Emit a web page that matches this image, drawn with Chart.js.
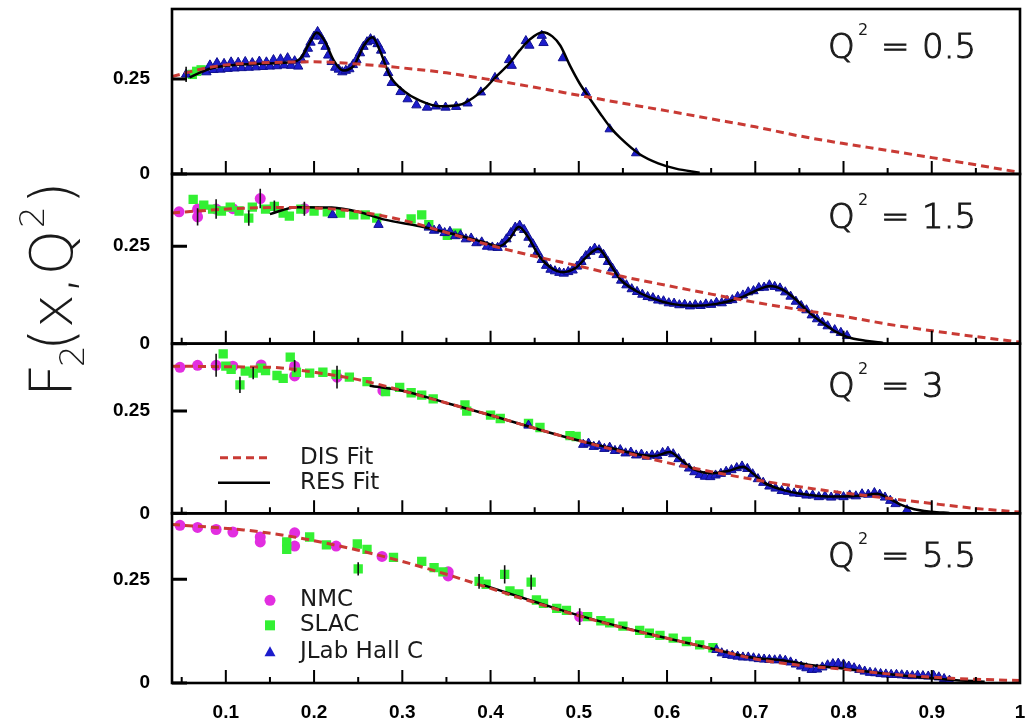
<!DOCTYPE html>
<html>
<head>
<meta charset="utf-8">
<script src="https://cdn.jsdelivr.net/npm/chart.js@4.4.1/dist/chart.umd.min.js"></script>
<style>
  html, body { margin: 0; padding: 0; background: #fff; }
</style>
</head>
<body>
<canvas id="grafica" width="1032" height="722"></canvas>
<script>
// eje x
const xTicks = [0.1, 0.2, 0.3, 0.4, 0.5, 0.6, 0.7, 0.8, 0.9, 1.0];
const xTickLabels = ['0.1', '0.2', '0.3', '0.4', '0.5', '0.6', '0.7', '0.8', '0.9', '1'];
const xMinor = [0.05, 0.15, 0.25, 0.35, 0.45, 0.55, 0.65, 0.75, 0.85, 0.95];
const yTicks = [0, 0.25];
const yTickLabels = ['0', '0.25'];
const q2Labels = ['0.5', '1.5', '3', '5.5'];

// Q2 = 0.5
const dis05 = [[0.039,0.256],[0.07,0.275],[0.1,0.287],[0.15,0.293],[0.2,0.295],[0.25,0.289],[0.3,0.279],[0.35,0.266],[0.4,0.248],[0.45,0.228],[0.5,0.207],[0.55,0.186],[0.6,0.166],[0.65,0.145],[0.7,0.124],[0.75,0.1],[0.8,0.08],[0.85,0.062],[0.9,0.043],[0.95,0.024],[1.0,0.004]];
const res05 = [[0.059,0.254],[0.07,0.266],[0.082,0.277],[0.105,0.286],[0.14,0.29],[0.17,0.293],[0.185,0.305],[0.195,0.345],[0.203,0.372],[0.212,0.35],[0.222,0.3],[0.233,0.272],[0.245,0.285],[0.257,0.34],[0.266,0.36],[0.275,0.322],[0.286,0.258],[0.302,0.218],[0.32,0.193],[0.343,0.178],[0.365,0.182],[0.38,0.2],[0.395,0.228],[0.405,0.253],[0.421,0.29],[0.433,0.325],[0.445,0.355],[0.459,0.373],[0.47,0.362],[0.479,0.338],[0.49,0.285],[0.501,0.238],[0.512,0.2],[0.524,0.16],[0.536,0.122],[0.547,0.095],[0.569,0.052],[0.59,0.028],[0.61,0.014],[0.637,0.003]];
const nmc05 = [];
const slac05 = [[0.062,0.262],[0.067,0.27],[0.072,0.274]];
const jlab05 = [[0.055,0.262],[0.078,0.268],[0.082,0.286],[0.086,0.274],[0.09,0.292],[0.094,0.275],[0.098,0.29],[0.102,0.277],[0.106,0.294],[0.11,0.278],[0.114,0.293],[0.118,0.279],[0.122,0.295],[0.126,0.28],[0.13,0.292],[0.134,0.281],[0.138,0.296],[0.142,0.282],[0.146,0.294],[0.15,0.283],[0.154,0.3],[0.158,0.284],[0.162,0.302],[0.166,0.286],[0.17,0.305],[0.174,0.285],[0.178,0.297],[0.182,0.283],[0.186,0.3],[0.19,0.315],[0.193,0.33],[0.196,0.346],[0.2,0.362],[0.204,0.374],[0.207,0.362],[0.21,0.35],[0.213,0.335],[0.216,0.312],[0.22,0.295],[0.224,0.28],[0.228,0.275],[0.232,0.268],[0.236,0.272],[0.24,0.276],[0.244,0.287],[0.248,0.3],[0.252,0.318],[0.256,0.335],[0.26,0.347],[0.264,0.355],[0.268,0.35],[0.272,0.342],[0.276,0.325],[0.28,0.296],[0.284,0.266],[0.288,0.24],[0.298,0.216],[0.306,0.197],[0.316,0.181],[0.328,0.175],[0.338,0.178],[0.349,0.175],[0.361,0.177],[0.374,0.186],[0.389,0.215],[0.405,0.253],[0.421,0.3],[0.424,0.285],[0.44,0.35],[0.444,0.338],[0.458,0.364],[0.46,0.345],[0.482,0.305],[0.508,0.214],[0.535,0.118],[0.565,0.055]];
const err05 = [[0.055,0.262,0.02]];

// Q2 = 1.5
const dis15 = [[0.039,0.335],[0.08,0.342],[0.12,0.347],[0.16,0.349],[0.2,0.348],[0.25,0.338],[0.3,0.317],[0.35,0.285],[0.4,0.252],[0.45,0.224],[0.5,0.199],[0.55,0.172],[0.6,0.149],[0.65,0.127],[0.7,0.106],[0.75,0.087],[0.8,0.07],[0.85,0.05],[0.9,0.033],[0.95,0.018],[1.0,0.004]];
const res15 = [[0.15,0.332],[0.18,0.35],[0.22,0.349],[0.25,0.338],[0.28,0.318],[0.32,0.301],[0.36,0.28],[0.39,0.262],[0.41,0.25],[0.422,0.27],[0.432,0.3],[0.442,0.275],[0.455,0.225],[0.468,0.195],[0.482,0.183],[0.497,0.195],[0.51,0.225],[0.522,0.243],[0.535,0.205],[0.547,0.165],[0.565,0.135],[0.581,0.118],[0.605,0.102],[0.63,0.097],[0.656,0.102],[0.68,0.115],[0.7,0.135],[0.717,0.148],[0.73,0.14],[0.745,0.115],[0.758,0.086],[0.777,0.052],[0.79,0.032],[0.804,0.017],[0.827,0.007],[0.845,0.002]];
const nmc15 = [[0.047,0.338],[0.068,0.345],[0.068,0.325],[0.089,0.345],[0.108,0.346],[0.139,0.372],[0.189,0.346]];
const slac15 = [[0.063,0.37],[0.075,0.355],[0.085,0.345],[0.095,0.34],[0.105,0.35],[0.115,0.34],[0.126,0.322],[0.13,0.35],[0.145,0.345],[0.155,0.352],[0.165,0.335],[0.172,0.327],[0.185,0.345],[0.2,0.34],[0.215,0.338],[0.23,0.335],[0.245,0.33],[0.258,0.33],[0.271,0.322],[0.31,0.32],[0.322,0.33],[0.33,0.305],[0.351,0.278],[0.362,0.283]];
const jlab15 = [[0.221,0.33],[0.273,0.305],[0.33,0.298],[0.336,0.29],[0.342,0.293],[0.348,0.284],[0.354,0.287],[0.36,0.276],[0.366,0.278],[0.372,0.268],[0.378,0.27],[0.384,0.258],[0.39,0.26],[0.396,0.249],[0.402,0.247],[0.408,0.246],[0.413,0.255],[0.418,0.268],[0.423,0.284],[0.428,0.298],[0.433,0.303],[0.438,0.292],[0.443,0.272],[0.448,0.255],[0.453,0.235],[0.458,0.215],[0.463,0.2],[0.468,0.19],[0.473,0.186],[0.478,0.182],[0.483,0.18],[0.488,0.184],[0.493,0.188],[0.498,0.198],[0.503,0.21],[0.508,0.225],[0.513,0.236],[0.518,0.244],[0.523,0.24],[0.528,0.228],[0.533,0.21],[0.538,0.193],[0.543,0.176],[0.548,0.162],[0.554,0.15],[0.56,0.14],[0.566,0.133],[0.572,0.126],[0.578,0.12],[0.584,0.117],[0.59,0.111],[0.596,0.109],[0.602,0.104],[0.608,0.103],[0.614,0.099],[0.62,0.1],[0.626,0.096],[0.632,0.099],[0.638,0.097],[0.644,0.101],[0.65,0.1],[0.656,0.105],[0.662,0.104],[0.668,0.11],[0.674,0.112],[0.68,0.12],[0.686,0.124],[0.692,0.132],[0.698,0.135],[0.704,0.143],[0.71,0.144],[0.716,0.15],[0.722,0.146],[0.728,0.142],[0.734,0.132],[0.74,0.121],[0.746,0.108],[0.752,0.097],[0.758,0.086],[0.764,0.073],[0.77,0.063],[0.776,0.054],[0.782,0.045],[0.79,0.035],[0.797,0.028],[0.804,0.02]];
const err15 = [[0.068,0.325,0.022],[0.089,0.345,0.025],[0.126,0.322,0.02],[0.139,0.372,0.025],[0.189,0.346,0.018],[0.155,0.352,0.015]];

// Q2 = 3
const dis3 = [[0.039,0.36],[0.08,0.359],[0.12,0.358],[0.16,0.356],[0.2,0.345],[0.25,0.327],[0.3,0.3],[0.35,0.27],[0.4,0.24],[0.45,0.208],[0.5,0.178],[0.55,0.15],[0.6,0.124],[0.65,0.102],[0.7,0.082],[0.75,0.065],[0.8,0.05],[0.85,0.037],[0.9,0.024],[0.95,0.012],[1.0,0.003]];
const res3 = [[0.263,0.312],[0.3,0.3],[0.35,0.27],[0.4,0.24],[0.45,0.208],[0.5,0.178],[0.54,0.158],[0.565,0.145],[0.585,0.14],[0.603,0.15],[0.615,0.132],[0.63,0.108],[0.652,0.098],[0.672,0.105],[0.686,0.114],[0.697,0.098],[0.71,0.075],[0.73,0.058],[0.751,0.048],[0.79,0.041],[0.82,0.043],[0.838,0.048],[0.85,0.038],[0.864,0.022],[0.88,0.01],[0.9,0.004],[0.92,0.001]];
const nmc3 = [[0.048,0.357],[0.068,0.362],[0.089,0.362],[0.108,0.36],[0.14,0.363],[0.178,0.36],[0.178,0.336],[0.226,0.333],[0.278,0.3]];
const slac3 = [[0.097,0.39],[0.1,0.36],[0.106,0.352],[0.116,0.314],[0.122,0.348],[0.131,0.343],[0.14,0.355],[0.145,0.349],[0.158,0.337],[0.165,0.33],[0.173,0.382],[0.18,0.345],[0.195,0.343],[0.21,0.345],[0.225,0.34],[0.24,0.333],[0.26,0.322],[0.281,0.298],[0.297,0.308],[0.31,0.295],[0.322,0.289],[0.335,0.28],[0.371,0.265],[0.373,0.25],[0.4,0.24],[0.411,0.232],[0.443,0.22],[0.456,0.21],[0.49,0.19],[0.497,0.188]];
const jlab3 = [[0.443,0.215],[0.505,0.168],[0.511,0.171],[0.517,0.163],[0.523,0.165],[0.529,0.158],[0.535,0.161],[0.541,0.153],[0.547,0.155],[0.553,0.147],[0.559,0.149],[0.565,0.142],[0.571,0.144],[0.577,0.139],[0.583,0.142],[0.589,0.141],[0.595,0.148],[0.601,0.151],[0.607,0.145],[0.613,0.133],[0.619,0.12],[0.625,0.11],[0.631,0.101],[0.637,0.094],[0.643,0.09],[0.649,0.089],[0.655,0.093],[0.661,0.097],[0.667,0.102],[0.673,0.106],[0.679,0.111],[0.685,0.115],[0.691,0.109],[0.697,0.096],[0.703,0.084],[0.709,0.075],[0.716,0.066],[0.723,0.061],[0.73,0.055],[0.737,0.053],[0.744,0.049],[0.751,0.048],[0.758,0.044],[0.765,0.044],[0.772,0.04],[0.779,0.042],[0.786,0.039],[0.793,0.042],[0.8,0.04],[0.807,0.044],[0.814,0.042],[0.821,0.047],[0.828,0.046],[0.835,0.05],[0.841,0.046],[0.847,0.039],[0.853,0.031],[0.859,0.023],[0.872,0.008]];
const err3 = [[0.089,0.362,0.028],[0.116,0.314,0.02],[0.131,0.343,0.015],[0.178,0.36,0.015],[0.226,0.333,0.028]];

// Q2 = 5.5
const dis55 = [[0.039,0.382],[0.08,0.376],[0.12,0.369],[0.16,0.358],[0.2,0.343],[0.25,0.32],[0.3,0.293],[0.35,0.262],[0.4,0.228],[0.45,0.194],[0.5,0.162],[0.55,0.133],[0.6,0.108],[0.65,0.083],[0.7,0.058],[0.75,0.043],[0.8,0.033],[0.85,0.022],[0.9,0.014],[0.95,0.009],[1.0,0.006]];
const res55 = [[0.392,0.236],[0.45,0.196],[0.5,0.163],[0.55,0.134],[0.6,0.108],[0.65,0.083],[0.7,0.06],[0.73,0.055],[0.76,0.044],[0.8,0.035],[0.84,0.024],[0.88,0.015],[0.92,0.008],[0.96,0.003]];
const nmc55 = [[0.048,0.38],[0.068,0.375],[0.089,0.37],[0.108,0.364],[0.139,0.352],[0.139,0.34],[0.178,0.362],[0.178,0.33],[0.225,0.33],[0.277,0.305],[0.352,0.268],[0.352,0.258],[0.501,0.16]];
const slac55 = [[0.169,0.34],[0.169,0.322],[0.195,0.352],[0.214,0.333],[0.249,0.335],[0.25,0.275],[0.26,0.322],[0.29,0.303],[0.322,0.293],[0.336,0.278],[0.346,0.268],[0.387,0.245],[0.395,0.238],[0.416,0.262],[0.422,0.222],[0.432,0.215],[0.446,0.243],[0.452,0.2],[0.46,0.192],[0.475,0.18],[0.486,0.175],[0.51,0.16],[0.525,0.15],[0.535,0.145],[0.55,0.137],[0.569,0.127],[0.58,0.12],[0.592,0.115],[0.607,0.108],[0.622,0.1],[0.637,0.092],[0.652,0.085]];
const jlab55 = [[0.656,0.08],[0.662,0.072],[0.668,0.068],[0.674,0.066],[0.68,0.064],[0.686,0.062],[0.692,0.062],[0.698,0.06],[0.704,0.058],[0.71,0.057],[0.716,0.056],[0.722,0.055],[0.728,0.056],[0.734,0.054],[0.74,0.05],[0.746,0.045],[0.752,0.04],[0.758,0.036],[0.764,0.032],[0.77,0.033],[0.776,0.038],[0.782,0.043],[0.788,0.046],[0.794,0.047],[0.8,0.045],[0.806,0.04],[0.812,0.036],[0.818,0.032],[0.824,0.028],[0.83,0.025],[0.836,0.024],[0.842,0.022],[0.848,0.021],[0.854,0.02],[0.86,0.02],[0.866,0.019],[0.872,0.018],[0.878,0.017],[0.884,0.018],[0.89,0.017],[0.896,0.016],[0.902,0.018],[0.908,0.014],[0.914,0.01],[0.92,0.006]];
const err55 = [[0.25,0.275,0.016],[0.387,0.245,0.018],[0.416,0.262,0.022],[0.446,0.243,0.018],[0.501,0.16,0.02],[0.8,0.045,0.01]];

const panels = [
  { axis: 'y1', ymax: 0.434, weight: 165, dis: dis05, res: res05, nmc: nmc05, slac: slac05, jlab: jlab05, err: err05 },
  { axis: 'y2', ymax: 0.435, weight: 169.7, dis: dis15, res: res15, nmc: nmc15, slac: slac15, jlab: jlab15, err: err15 },
  { axis: 'y3', ymax: 0.415, weight: 169.7, dis: dis3, res: res3, nmc: nmc3, slac: slac3, jlab: jlab3, err: err3 },
  { axis: 'y4', ymax: 0.409, weight: 169.7, dis: dis55, res: res55, nmc: nmc55, slac: slac55, jlab: jlab55, err: err55 }
];

const RED = '#c93a34';
const NMC_COLOR = '#e22ee0';
const SLAC_COLOR = '#33f033';
const JLAB_COLOR = '#1c1ccc';

const pts = a => a.map(p => ({ x: p[0], y: p[1] }));

const datasets = [];
panels.forEach(p => {
  datasets.push({ type: 'line', label: 'DIS Fit', data: pts(p.dis), yAxisID: p.axis, order: 0,
    borderColor: RED, borderWidth: 3, borderDash: [8, 5], pointRadius: 0, cubicInterpolationMode: 'monotone', fill: false });
  datasets.push({ type: 'line', label: 'RES Fit', data: pts(p.res), yAxisID: p.axis, order: 1,
    borderColor: '#000', borderWidth: 2.5, pointRadius: 0, cubicInterpolationMode: 'monotone', fill: false });
  datasets.push({ label: 'JLab Hall C', data: pts(p.jlab), yAxisID: p.axis, order: 2, pointStyle: 'triangle',
    pointRadius: 5.4, backgroundColor: JLAB_COLOR, borderColor: '#10108f', borderWidth: 1 });
  datasets.push({ label: 'SLAC', data: pts(p.slac), yAxisID: p.axis, order: 3, pointStyle: 'rect',
    pointRadius: 6.6, backgroundColor: SLAC_COLOR, borderColor: SLAC_COLOR, borderWidth: 0 });
  datasets.push({ label: 'NMC', data: pts(p.nmc), yAxisID: p.axis, order: 4, pointStyle: 'circle',
    pointRadius: 5.5, backgroundColor: NMC_COLOR, borderColor: NMC_COLOR, borderWidth: 0 });
});

const tickFont = { family: 'Liberation Sans', weight: 'bold', size: 19 };

const scales = {
  x: {
    type: 'linear', position: 'bottom', min: 0.039, max: 1.0,
    grid: { display: false, drawTicks: false },
    border: { display: false },
    afterBuildTicks: s => { s.ticks = xTicks.map(v => ({ value: v })); },
    afterFit: s => { s.height = 39; s.paddingLeft = 0; s.paddingRight = 0; },
    ticks: { font: tickFont, color: '#000', padding: 18, autoSkip: false, maxRotation: 0,
      callback: (v, i) => xTickLabels[i] }
  }
};
// los ejes de abajo primero: chart.js apila al reves
panels.slice().reverse().forEach(p => {
  scales[p.axis] = {
    type: 'linear', position: 'left', stack: 'f2', stackWeight: p.weight,
    min: 0, max: p.ymax,
    grid: { display: false, drawTicks: false },
    border: { display: false },
    afterBuildTicks: s => { s.ticks = yTicks.map(v => ({ value: v })); },
    afterFit: s => { s.width = 172; s.paddingTop = 0; s.paddingBottom = 0; },
    ticks: { font: tickFont, color: '#000', padding: 22, autoSkip: false,
      callback: (v, i) => yTickLabels[i] }
  };
});

const lightFont = '"DejaVu Sans", "Noto Sans", sans-serif';

const frames = {
  id: 'frames',
  afterDatasetsDraw(chart) {
    const ctx = chart.ctx;
    const x = chart.scales.x;
    const area = chart.chartArea;
    ctx.save();
    ctx.lineCap = 'butt';
    panels.forEach((p, k) => {
      const s = chart.scales[p.axis];

      // barras de error
      ctx.strokeStyle = '#111';
      ctx.lineWidth = 1.6;
      ctx.beginPath();
      p.err.forEach(e => {
        const px = x.getPixelForValue(e[0]);
        ctx.moveTo(px, s.getPixelForValue(e[1] - e[2]));
        ctx.lineTo(px, s.getPixelForValue(e[1] + e[2]));
      });
      ctx.stroke();

      ctx.strokeStyle = '#000';
      ctx.lineWidth = 2;
      ctx.beginPath();
      xTicks.forEach(v => {
        if (v >= 1) return;
        const px = x.getPixelForValue(v);
        ctx.moveTo(px, s.bottom); ctx.lineTo(px, s.bottom - 13);
      });
      xMinor.forEach(v => {
        const px = x.getPixelForValue(v);
        ctx.moveTo(px, s.bottom); ctx.lineTo(px, s.bottom - 6);
      });
      ctx.stroke();
      ctx.lineWidth = 3;
      ctx.beginPath();
      yTicks.forEach(v => {
        const py = s.getPixelForValue(v);
        ctx.moveTo(area.left, py); ctx.lineTo(area.left + 15, py);
      });
      ctx.stroke();
      ctx.lineWidth = 2.6;
      ctx.strokeRect(area.left, s.top, area.right - area.left, s.bottom - s.top);

      // Q2 label
      const base = s.bottom - 116;
      const x0 = 828;
      ctx.fillStyle = '#1a1a1a';
      ctx.strokeStyle = '#1a1a1a';
      ctx.lineWidth = 1;
      ctx.textBaseline = 'alphabetic';
      ctx.textAlign = 'left';
      ctx.font = '200 34px ' + lightFont;
      [['Q', x0], ['=', x0 + 53], [q2Labels[k], x0 + 94]].forEach(t => {
        ctx.fillText(t[0], t[1], base);
        ctx.strokeText(t[0], t[1], base);
      });
      ctx.font = '16px ' + lightFont;
      ctx.fillText('2', x0 + 30, base - 23);
    });

    // leyenda ajustes (panel 3)
    const s3 = chart.scales.y3;
    ctx.font = '23px ' + lightFont;
    ctx.fillStyle = '#1a1a1a';
    ctx.textBaseline = 'middle';
    let ly = s3.top + 114;
    ctx.strokeStyle = RED; ctx.lineWidth = 3; ctx.setLineDash([8, 5]);
    ctx.beginPath(); ctx.moveTo(area.left + 48, ly); ctx.lineTo(area.left + 98, ly); ctx.stroke();
    ctx.setLineDash([]);
    ctx.fillText('DIS Fit', area.left + 128, ly);
    ly = s3.top + 139;
    ctx.strokeStyle = '#000'; ctx.lineWidth = 2.5;
    ctx.beginPath(); ctx.moveTo(area.left + 46, ly); ctx.lineTo(area.left + 98, ly); ctx.stroke();
    ctx.fillText('RES Fit', area.left + 128, ly);

    // leyenda datos (panel 4)
    const s4 = chart.scales.y4;
    const mx = area.left + 98;
    const tx = area.left + 128;
    let my = s4.top + 87;
    ctx.fillStyle = NMC_COLOR;
    ctx.beginPath(); ctx.arc(mx, my, 5.5, 0, Math.PI * 2); ctx.fill();
    ctx.fillStyle = '#1a1a1a'; ctx.fillText('NMC', tx, my);
    my = s4.top + 112;
    ctx.fillStyle = SLAC_COLOR; ctx.fillRect(mx - 5, my - 5, 10, 10);
    ctx.fillStyle = '#1a1a1a'; ctx.fillText('SLAC', tx, my);
    my = s4.top + 139;
    ctx.fillStyle = JLAB_COLOR;
    ctx.beginPath(); ctx.moveTo(mx, my - 6); ctx.lineTo(mx + 5.5, my + 4); ctx.lineTo(mx - 5.5, my + 4); ctx.closePath(); ctx.fill();
    ctx.fillStyle = '#1a1a1a'; ctx.fillText('JLab Hall C', tx, my);

    // titulo eje y
    ctx.save();
    ctx.translate(72, 397);
    ctx.rotate(-Math.PI / 2);
    ctx.textBaseline = 'alphabetic';
    ctx.fillStyle = '#1a1a1a';
    ctx.font = '200 58px ' + lightFont;
    ctx.fillText('F', 0, 0);
    const wMid = ctx.measureText('(x,Q').width;
    ctx.fillText('(x,Q', 46, 0);
    ctx.font = '200 34px ' + lightFont;
    ctx.fillText('2', 30, 12);
    const supX = 46 + wMid + 2;
    ctx.fillText('2', supX, -28);
    const wSup = ctx.measureText('2').width;
    ctx.font = '200 58px ' + lightFont;
    ctx.fillText(')', supX + wSup + 2, 0);
    ctx.restore();

    ctx.restore();
  }
};

new Chart(document.getElementById('grafica'), {
  type: 'scatter',
  data: { datasets: datasets },
  options: {
    responsive: false,
    animation: false,
    layout: { padding: { top: 9, right: 12, left: 0, bottom: 0 } },
    plugins: { legend: { display: false }, tooltip: { enabled: false } },
    scales: scales
  },
  plugins: [frames]
});
</script>
</body>
</html>
